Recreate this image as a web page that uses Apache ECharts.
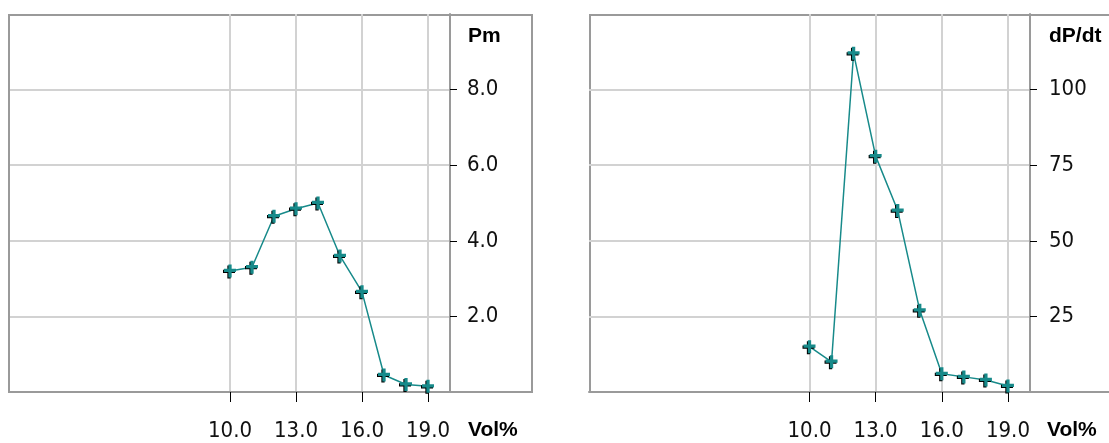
<!DOCTYPE html>
<html>
<head>
<meta charset="utf-8">
<script src="https://cdn.jsdelivr.net/npm/echarts@6/dist/echarts.min.js"></script>
<style>
html,body{margin:0;padding:0;background:#fff;}
#c{width:1109px;height:443px;}
</style>
</head>
<body>
<div id="c"></div>
<script>
// ---- data ----
const volPercent = [10, 11, 12, 13, 14, 15, 16, 17, 18, 19];
const pmValues = [3.2, 3.3, 4.65, 4.85, 5.0, 3.6, 2.65, 0.45, 0.2, 0.15];
const dpdtValues = [15, 10, 112, 78, 60, 27, 6, 5, 4, 2];
const xTickValues = [10, 13, 16, 19];
const pmTickValues = [2, 4, 6, 8];
const dpdtTickValues = [25, 50, 75, 100];
const xName = 'Vol%';
const pmName = 'Pm';
const dpdtName = 'dP/dt';

// ---- styles ----
const TEAL = '#178a8a';
const FONT = "'DejaVu Sans Condensed', 'Liberation Sans Narrow', sans-serif";
const BOLD_FONT = "'Liberation Sans', Arial, sans-serif";
const plusPath = 'path://M4,0H7V4H11V7H7V12H4V7H0V4H4Z';

const chart = echarts.init(document.getElementById('c'), null, {renderer: 'canvas'});

function xAxisDef(gridIndex, gap) {
  return {
    type: 'value', gridIndex, min: 0, max: 20,
    name: xName, nameLocation: 'end', nameGap: gap,
    nameTextStyle: {fontFamily: BOLD_FONT, fontWeight: 'bold', fontSize: 21, color: '#000',
      align: 'left', verticalAlign: 'top', padding: [28, 0, 0, 0]},
    axisLine: {show: true, onZero: false, lineStyle: {color: '#9a9a9a', width: 2}},
    axisTick: {show: true, customValues: xTickValues, length: 10, lineStyle: {color: '#000', width: 1}},
    axisLabel: {show: true, customValues: xTickValues, formatter: v => Number(v).toFixed(1),
      fontFamily: FONT, fontSize: 22, color: '#111', margin: 39, verticalAlign: 'middle'},
    splitLine: {show: true, lineStyle: {color: '#d2d2d2', width: 2}}
  };
}
function yAxisDef(gridIndex, max, interval, ticks, name, fmt, padLeft, labMargin) {
  return {
    type: 'value', gridIndex, position: 'right', min: 0, max, interval,
    name, nameLocation: 'end', nameGap: 0,
    nameTextStyle: {fontFamily: BOLD_FONT, fontWeight: 'bold', fontSize: 21, color: '#000',
      align: 'left', verticalAlign: 'top', padding: [12, 0, 0, padLeft]},
    axisLine: {show: true, onZero: false, lineStyle: {color: '#9a9a9a', width: 2}},
    axisTick: {show: true, customValues: ticks, length: 7, lineStyle: {color: '#000', width: 1}},
    axisLabel: {show: true, customValues: ticks, formatter: fmt, fontFamily: FONT, fontSize: 22,
      color: '#111', margin: labMargin, align: 'left', verticalAlign: 'middle'},
    splitLine: {show: true, lineStyle: {color: '#d2d2d2', width: 2}}
  };
}

const option = {
  animation: false,
  backgroundColor: '#fff',
  graphic: [
    {type: 'rect', z: -1, shape: {x: 9, y: 15, width: 523, height: 377}, style: {fill: 'none', stroke: '#9a9a9a', lineWidth: 2}},
    {type: 'rect', z: -1, shape: {x: 590, y: 15, width: 600, height: 377}, style: {fill: 'none', stroke: '#9a9a9a', lineWidth: 2}}
  ],
  grid: [
    {left: 10, top: 14, width: 440, height: 378},
    {left: 589, top: 14, width: 441, height: 378}
  ],
  xAxis: [xAxisDef(0, 18), xAxisDef(1, 17)],
  yAxis: [
    yAxisDef(0, 10, 2, pmTickValues, pmName, v => Number(v).toFixed(1), 18, 17),
    yAxisDef(1, 125, 25, dpdtTickValues, dpdtName, v => String(v), 19, 19)
  ],
  series: [
    {type: 'line', xAxisIndex: 0, yAxisIndex: 0,
      data: volPercent.map((x, i) => [x, pmValues[i]]),
      symbol: plusPath, symbolSize: [12, 13],
      lineStyle: {color: TEAL, width: 1.5},
      itemStyle: {color: TEAL, shadowColor: '#000', shadowOffsetX: -1, shadowOffsetY: 1, shadowBlur: 0}},
    {type: 'line', xAxisIndex: 1, yAxisIndex: 1,
      data: volPercent.map((x, i) => [x, dpdtValues[i]]),
      symbol: plusPath, symbolSize: [12, 13],
      lineStyle: {color: TEAL, width: 1.5},
      itemStyle: {color: TEAL, shadowColor: '#000', shadowOffsetX: -1, shadowOffsetY: 1, shadowBlur: 0}}
  ]
};
chart.setOption(option);
</script>
</body>
</html>
